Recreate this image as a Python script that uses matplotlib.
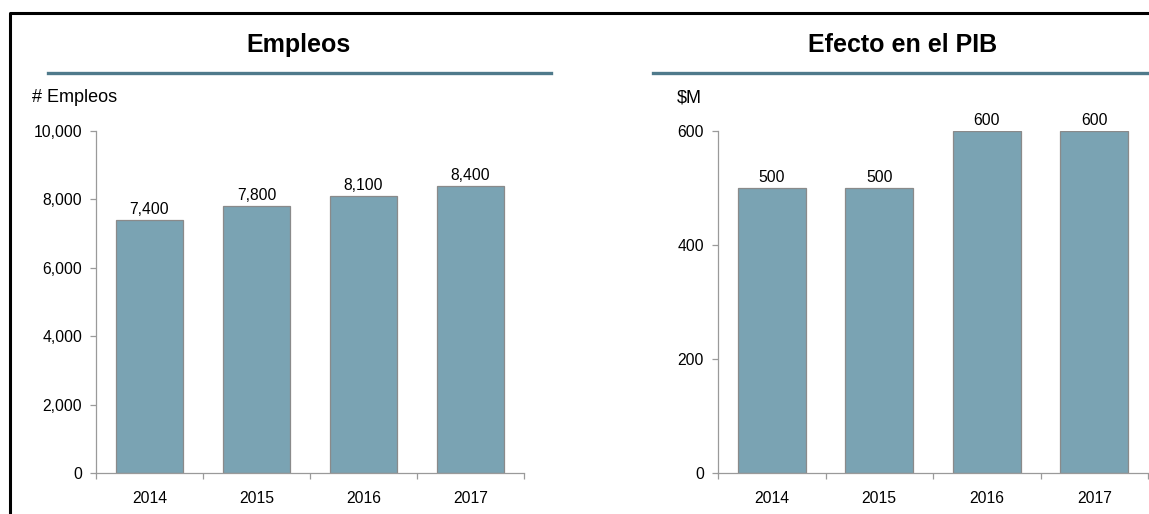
import matplotlib

matplotlib.use("Agg")
import matplotlib.pyplot as plt
from matplotlib.lines import Line2D
from matplotlib.ticker import FixedLocator, FuncFormatter

plt.rcParams["font.family"] = ["Liberation Sans", "DejaVu Sans"]

years = ["2014", "2015", "2016", "2017"]
empleos = [7400, 7800, 8100, 8400]
pib = [500, 500, 600, 600]

_BAR = "#7aa3b3"
_EDGE = "#8a8a8a"
_AXIS = "#9a9a9a"
_RULE = "#4f7a8b"

W, H = 1149, 514
fig = plt.figure(figsize=(W / 100, H / 100), dpi=100)


def px(x, y):
    # pixel coords (top-left origin) -> figure fraction
    return x / W, 1 - y / H


def panel(left, width, values, ymax, ystep, title, title_x, unit, unit_x, rule):
    ax = fig.add_axes([left / W, 41 / H, width / W, 342 / H])
    xs = range(len(values))
    ax.bar(xs, values, width=0.63, color=_BAR, edgecolor=_EDGE, linewidth=0.9, zorder=2)
    for x, v in zip(xs, values):
        ax.annotate(f"{v:,}", (x, v), xytext=(0, 2), textcoords="offset points",
                    ha="center", va="bottom", fontsize=11.3)
    ax.set_xlim(-0.5, len(values) - 0.5)
    ax.set_ylim(0, ymax)
    ax.set_yticks(range(0, ymax + 1, ystep))
    ax.yaxis.set_major_formatter(FuncFormatter(lambda v, _: f"{int(v):,}"))
    ax.set_xticks(list(xs))
    ax.set_xticklabels(years)
    ax.xaxis.set_minor_locator(FixedLocator([i - 0.5 for i in range(len(values) + 1)]))
    ax.tick_params(axis="x", which="major", length=0, pad=13, labelsize=11.3)
    ax.tick_params(axis="x", which="minor", length=4, width=0.9, color=_AXIS)
    ax.tick_params(axis="y", length=4, width=0.9, color=_AXIS, pad=6, labelsize=11.3)
    for s in ("top", "right"):
        ax.spines[s].set_visible(False)
    for s in ("left", "bottom"):
        ax.spines[s].set_color(_AXIS)
        ax.spines[s].set_linewidth(0.9)

    tx, ty = px(title_x, 45)
    fig.text(tx, ty, title, ha="center", va="center", fontsize=18, fontweight="bold")
    ux, uy = px(unit_x, 98)
    fig.text(ux, uy, unit, ha="left", va="center", fontsize=13)
    (x0, yr), (x1, _) = px(rule[0], 73), px(rule[1], 73)
    fig.add_artist(Line2D([x0, x1], [yr, yr], color=_RULE, linewidth=2.4))
    return ax


panel(96, 428, empleos, 10000, 2000, "Empleos", 299, "# Empleos", 32, (48, 551))
panel(718, 430, pib, 600, 200, "Efecto en el PIB", 903, "$M", 677, (653, 1149))

# black frame on the top and left edges
bx, by = px(10, 13)
fig.add_artist(Line2D([bx, bx, 1.0], [0.0, by, by], color="black", linewidth=2.2))

fig.savefig("out.png", dpi=100, facecolor="white")
